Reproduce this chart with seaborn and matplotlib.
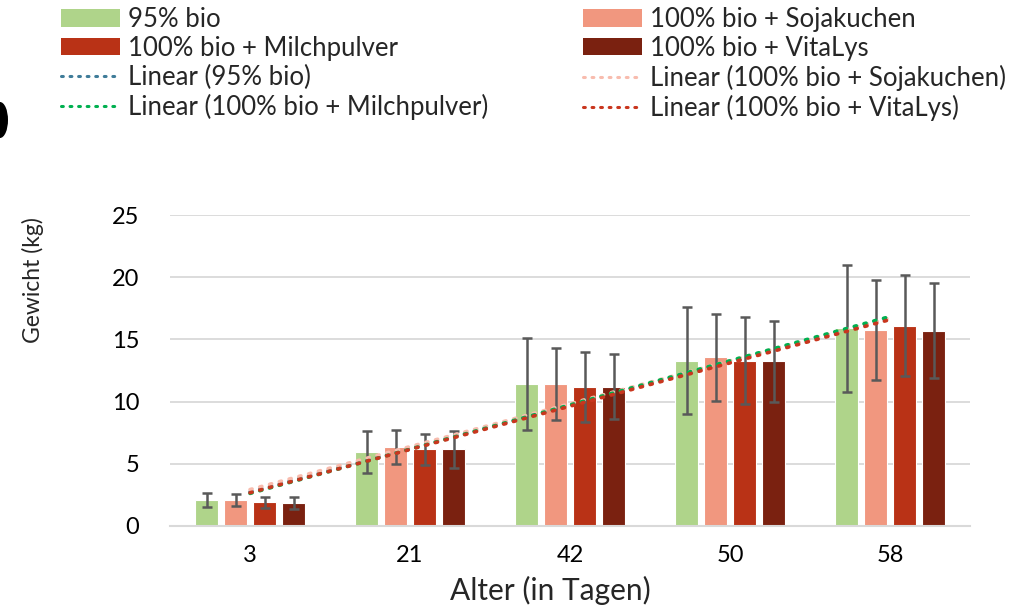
import numpy as np
import pandas as pd
import matplotlib
matplotlib.use("Agg")
import matplotlib.pyplot as plt
from matplotlib.patches import Patch, Ellipse
from matplotlib.lines import Line2D
import seaborn as sns

# ---- data ----
ages = ["3", "21", "42", "50", "58"]
groups = ["95% bio", "100% bio + Sojakuchen", "100% bio + Milchpulver", "100% bio + VitaLys"]
mean_95 = [2.1, 5.95, 11.4, 13.3, 15.9]
sd_95 = [0.55, 1.7, 3.7, 4.3, 5.1]
mean_soja = [2.1, 6.35, 11.4, 13.55, 15.75]
sd_soja = [0.5, 1.4, 2.9, 3.5, 4.0]
mean_milch = [1.9, 6.15, 11.2, 13.3, 16.1]
sd_milch = [0.45, 1.25, 2.8, 3.5, 4.05]
mean_vita = [1.85, 6.15, 11.2, 13.25, 15.7]
sd_vita = [0.45, 1.5, 2.6, 3.25, 3.8]
y_ticks = [0, 5, 10, 15, 20, 25]

bar_colors = ["#AFD48A", "#F1977F", "#B93216", "#7A2110"]
trend_colors = ["#3F7C99", "#F8BCAE", "#00B050", "#C9361E"]

means = [mean_95, mean_soja, mean_milch, mean_vita]
sds = [sd_95, sd_soja, sd_milch, sd_vita]

rows = []
for g, m, s in zip(groups, means, sds):
    for a, mv, sv in zip(ages, m, s):
        rows.append({"Alter": a, "Gruppe": g, "Gewicht": mv, "SD": sv})
df = pd.DataFrame(rows)

sns.set_theme(style="white")
plt.rcParams["font.family"] = ["Lato", "DejaVu Sans"]

fig = plt.figure(figsize=(10.35, 6.11), dpi=100)
ax = fig.add_axes([170 / 1035, 1 - 526 / 611, 800 / 1035, (526 - 215) / 611])

sns.barplot(data=df, x="Alter", y="Gewicht", hue="Gruppe", order=ages,
            hue_order=groups, palette=bar_colors, saturation=1, errorbar=None,
            width=0.725, gap=0.2, edgecolor="white", linewidth=0.8,
            legend=False, ax=ax, zorder=2)

# error bars at bar centers
for cont, s in zip(ax.containers, sds):
    xs = [p.get_x() + p.get_width() / 2 for p in cont.patches]
    ys = [p.get_height() for p in cont.patches]
    ax.errorbar(xs, ys, yerr=s, fmt="none", ecolor="#595959", elinewidth=1.8,
                capsize=3.8, capthick=1.8, zorder=3)

# linear trendlines (fit over category index)
xi = np.arange(len(ages))
for m, c in zip(means, trend_colors):
    k, d = np.polyfit(xi, m, 1)
    ax.plot([xi[0], xi[-1]], [k * xi[0] + d, k * xi[-1] + d], color=c,
            linestyle=(0, (0.6, 2.2)), linewidth=2.6, dash_capstyle="round",
            zorder=4)

ax.set_ylim(0, 25)
ax.set_xlim(-0.5, len(ages) - 0.5)
ax.set_yticks(y_ticks)
ax.yaxis.grid(True, color="#D9D9D9", linewidth=1.3, zorder=0)
ax.set_axisbelow(True)
for sp in ["top", "right", "left"]:
    ax.spines[sp].set_visible(False)
ax.spines["bottom"].set_color("#D9D9D9")
ax.spines["bottom"].set_linewidth(1.5)
ax.tick_params(axis="both", length=0, labelsize=17, colors="black")
ax.tick_params(axis="y", pad=22)
ax.tick_params(axis="x", pad=14)
ax.set_xlabel("Alter (in Tagen)", fontsize=21.5)
ax.xaxis.set_label_coords((550 - 170) / 800, -(590 - 526) / 311, transform=ax.transAxes)
ax.xaxis.label.set_va("center")
ax.set_ylabel("")
fig.text(33 / 1035, 1 - 280 / 611, "Gewicht (kg)", rotation=90, fontsize=16.5,
         ha="center", va="center")

# legends (two columns)
def bar_h(i):
    return Patch(facecolor=bar_colors[i], edgecolor="none", label=groups[i])

def line_h(i):
    return Line2D([], [], color=trend_colors[i], linestyle=(0, (0.6, 2.2)),
                  linewidth=2.2, dash_capstyle="round",
                  label="Linear (" + groups[i] + ")")

left_handles = [bar_h(0), bar_h(2), line_h(0), line_h(2)]
right_handles = [bar_h(1), bar_h(3), line_h(1), line_h(3)]
common = dict(loc="upper left", frameon=False, fontsize=18.5, borderpad=0,
              borderaxespad=0, handlelength=2.3, handleheight=0.65,
              handletextpad=0.32, labelspacing=0.15)
leg1 = fig.legend(handles=left_handles, bbox_to_anchor=(61 / 1035, 1 - 7 / 611), **common)
leg2 = fig.legend(handles=right_handles, bbox_to_anchor=(583 / 1035, 1 - 7 / 611), **common)

# cropped black mark at left edge
fig.patches.append(Ellipse((0.0, 1 - 120 / 611), width=16 / 1035, height=36 / 611,
                           transform=fig.transFigure, facecolor="black",
                           edgecolor="none"))

fig.savefig("out.png", dpi=100)
